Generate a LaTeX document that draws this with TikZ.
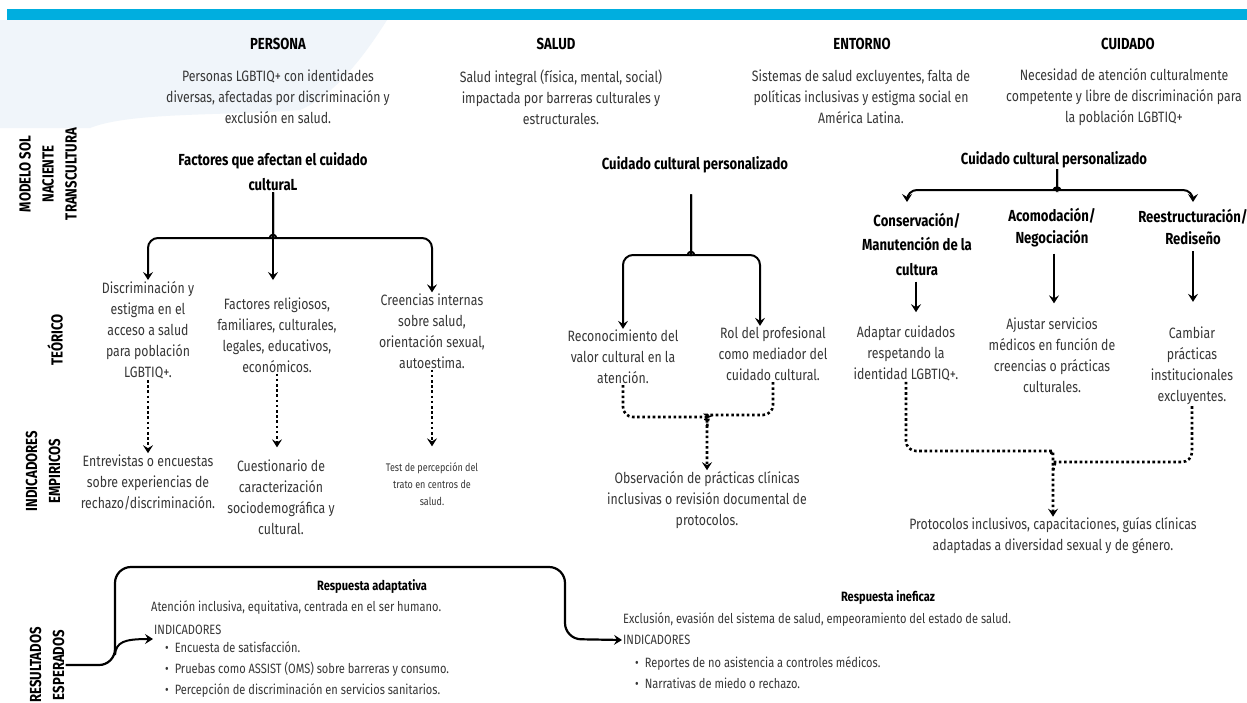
\documentclass[tikz,border=0pt]{standalone}
\usepackage{fontspec}
\setmainfont{Fira Sans}[FakeStretch=0.82]
\usetikzlibrary{arrows.meta}
\definecolor{barblue}{RGB}{0,174,223}
\definecolor{blotch}{RGB}{240,245,250}
\definecolor{txt}{RGB}{55,55,55}
\tikzset{
  body/.style={font=\fontsize{15}{21}\selectfont, align=center, text=txt, inner sep=1pt},
  lowbody/.style={body, font=\fontsize{13.5}{21}\selectfont},
  smallbody/.style={body, font=\fontsize{11}{17}\selectfont},
  head/.style={font=\bfseries\fontsize{16}{20}\selectfont, inner sep=1pt},
  ttl/.style={font=\bfseries\fontsize{16}{25}\selectfont, align=center, inner sep=1pt},
  ttls/.style={font=\bfseries\fontsize{13.5}{16}\selectfont, inner sep=1pt},
  sidelbl/.style={font=\bfseries\fontsize{16}{23}\selectfont, align=center, rotate=90, inner sep=1pt},
  arr/.style={line width=2pt, -{Stealth[length=8pt,width=10pt,inset=3pt]}},
  dotarr/.style={arr, line width=2.6pt, dash pattern=on 2.6pt off 2.6pt},
  dotline/.style={line width=2.6pt, dash pattern=on 2.6pt off 2.6pt},
}
\begin{document}
\begin{tikzpicture}[x=1pt,y=1pt]
\useasboundingbox (0,0) rectangle (1247,-702);
\fill[white] (0,0) rectangle (1247,-702);
\fill[blotch] (0,-20) -- (387,-20) .. controls (365,-55) and (335,-95) .. (300,-110) .. controls (220,-116) and (130,-112) .. (90,-128) -- (0,-128) -- cycle;
\fill[barblue] (7,-9) rectangle (1247,-20);

% metaparadigmas
\node[head] (per) at (278,-44) {PERSONA};
\node[head] (sal) at (556,-44) {SALUD};
\node[head] (ent) at (862,-44) {ENTORNO};
\node[head] (cui) at (1128,-44) {CUIDADO};
\node[body] (dper) at (278,-97) {Personas LGBTIQ+ con identidades\\diversas, afectadas por discriminación y\\exclusión en salud.};
\node[body] (dsal) at (561,-97) {Salud integral (física, mental, social)\\impactada por barreras culturales y\\estructurales.};
\node[body] (dent) at (861,-97) {Sistemas de salud excluyentes, falta de\\políticas inclusivas y estigma social en\\América Latina.};
\node[body] (dcui) at (1124,-97) {Necesidad de atención culturalmente\\competente y libre de discriminación para\\la población LGBTIQ+};

\node[sidelbl] (lmod) at (48,-174) {MODELO SOL\\NACIENTE\\TRANSCULTURA};
\node[sidelbl] (lteo) at (55,-340) {TEÓRICO};
\node[sidelbl] (lind) at (43,-471) {INDICADORES\\EMPIRICOS};
\node[sidelbl] (lres) at (47,-665) {RESULTADOS\\ESPERADOS};

% factores
\node[ttl] (fac) at (273,-172) {Factores que afectan el cuidado\\culturaL};
\node[body] (d1) at (148,-330) {Discriminación y\\estigma en el\\acceso a salud\\para población\\LGBTIQ+.};
\node[body] (d2) at (277,-335) {Factores religiosos,\\familiares, culturales,\\legales, educativos,\\económicos.};
\node[body] (d3) at (432,-331) {Creencias internas\\sobre salud,\\orientación sexual,\\autoestima.};
\node[body] (e1) at (148,-482) {Entrevistas o encuestas\\sobre experiencias de\\rechazo/discriminación.};
\node[body] (e2) at (281,-497) {Cuestionario de\\caracterización\\sociodemográfica y\\cultural.};
\node[smallbody] (e3) at (432,-484) {Test de percepción del\\trato en centros de\\salud.};

\draw[arr, rounded corners=10] (fac.south) -- (273,-226) to[out=-90,in=0] (261,-238) -- (148,-238) -- (d1.north);
\draw[arr] (fac.south) -- (fac.south |- d1.north);
\draw[arr, rounded corners=10] (fac.south) -- (273,-226) to[out=-90,in=180] (285,-238) -- (432,-238) -- (d3.north);
\draw[dotarr] (d1.south) -- (e1.north);
\draw[dotarr, shorten >=11pt] (d2.south) -- (d2.south |- e2.north);
\draw[dotarr, shorten >=15pt] (d3.south) -- (e3.north);

% cuidado personalizado
\node[ttl] (cp1) at (695,-165) {Cuidado cultural personalizado};
\node[body] (r1) at (623,-357) {Reconocimiento del\\valor cultural en la\\atención.};
\node[body] (r2) at (773,-354) {Rol del profesional\\como mediador del\\cuidado cultural.};
\node[body] (obs) at (707,-500) {Observación de prácticas clínicas\\inclusivas o revisión documental de\\protocolos.};

\draw[arr, rounded corners=10] ([xshift=-4pt,yshift=-20pt]cp1.south) -- (691,-243) to[out=-90,in=0] (679,-255) -- (623,-255) -- (r1.north);
\draw[arr, rounded corners=10] ([xshift=-4pt,yshift=-20pt]cp1.south) -- (691,-243) to[out=-90,in=180] (703,-255) -- (760,-255) -- ([xshift=-13pt]r2.north);
\draw[dotarr, rounded corners=10] (r1.south) -- (623,-417) -- (697,-417) to[out=0,in=90] (707,-428) -- (obs.north);
\draw[dotline, rounded corners=10] (r2.south) -- (773,-415) -- (717,-415) to[out=180,in=90] (707,-428);

% modos de accion
\node[ttl] (cp2) at (1054,-160) {Cuidado cultural personalizado};
\node[ttl, font=\bfseries\fontsize{16}{24.5}\selectfont] (c1) at (917,-244) {Conservación/\\Manutención de la\\cultura};
\node[ttl, font=\bfseries\fontsize{16}{22}\selectfont] (c2) at (1052,-228) {Acomodación/\\Negociación};
\node[ttl, font=\bfseries\fontsize{16}{22}\selectfont] (c3) at (1193,-227) {Reestructuración/\\Rediseño};
\node[body] (p1) at (906,-353) {Adaptar cuidados\\respetando la\\identidad LGBTIQ+.};
\node[body] (p2) at (1052,-355) {Ajustar servicios\\médicos en función de\\creencias o prácticas\\culturales.};
\node[body] (p3) at (1192,-366) {Cambiar\\prácticas\\institucionales\\excluyentes.};
\node[body] (prot) at (1053,-536) {Protocolos inclusivos, capacitaciones, guías clínicas\\adaptadas a diversidad sexual y de género.};

\draw[arr, rounded corners=10] ([xshift=3pt]cp2.south) -- (1057,-179) to[out=-90,in=0] (1045,-190) -- (907,-190) -- (907,-202);
\draw[arr, rounded corners=10] ([xshift=3pt]cp2.south) -- (1057,-179) to[out=-90,in=180] (1069,-190) -- (1193,-190) -- (1193,-202);
\draw[arr, shorten <=5pt, shorten >=12pt] ([xshift=-1pt]c1.south) -- ([xshift=-1pt]c1.south |- p1.north);
\draw[arr, shorten <=5pt, shorten >=13pt] ([xshift=2pt]c2.south) -- ([xshift=2pt]c2.south |- p2.north);
\draw[arr, shorten <=5pt, shorten >=24pt] (c3.south) -- (c3.south |- p3.north);
\draw[dotarr, rounded corners=10] (p1.south) -- (906,-451) -- (1043,-451) to[out=0,in=90] (1053,-462) -- (prot.north);
\draw[dotline, rounded corners=10] (p3.south) -- (1192,-462) -- (1063,-462) to[out=180,in=90] (1053,-472);

% resultados
\node[ttls] (ra) at (372,-587) {Respuesta adaptativa};
\node[lowbody, anchor=west] (ratxt) at (150,-608) {Atención inclusiva, equitativa, centrada en el ser humano.};
\node[lowbody, anchor=west] (raind) at (153,-630) {INDICADORES};
\node[lowbody, anchor=north west, align=left] (ralist) at (164,-640) {\textbullet\hspace{6pt}Encuesta de satisfacción.\\\textbullet\hspace{6pt}Pruebas como ASSIST (OMS) sobre barreras y consumo.\\\textbullet\hspace{6pt}Percepción de discriminación en servicios sanitarios.};
\node[ttls] (ri) at (888,-598) {Respuesta ineficaz};
\node[lowbody, anchor=west] (ritxt) at (622,-620) {Exclusión, evasión del sistema de salud, empeoramiento del estado de salud.};
\node[lowbody, anchor=west] (riind) at (622,-640) {INDICADORES};
\node[lowbody, anchor=north west, align=left] (rilist) at (634,-655) {\textbullet\hspace{6pt}Reportes de no asistencia a controles médicos.\\\textbullet\hspace{6pt}Narrativas de miedo o rechazo.};

\coordinate (split) at (115,-655);
\draw[arr, line width=2.2pt, rounded corners=16] (lres.south) -- (115,-665) -- (115,-567) -- (565,-567) -- (565,-639) -- (riind.west);
\draw[arr] (split) .. controls (116,-642) and (124,-639) .. ([yshift=-9pt]raind.west);
\end{tikzpicture}
\end{document}
